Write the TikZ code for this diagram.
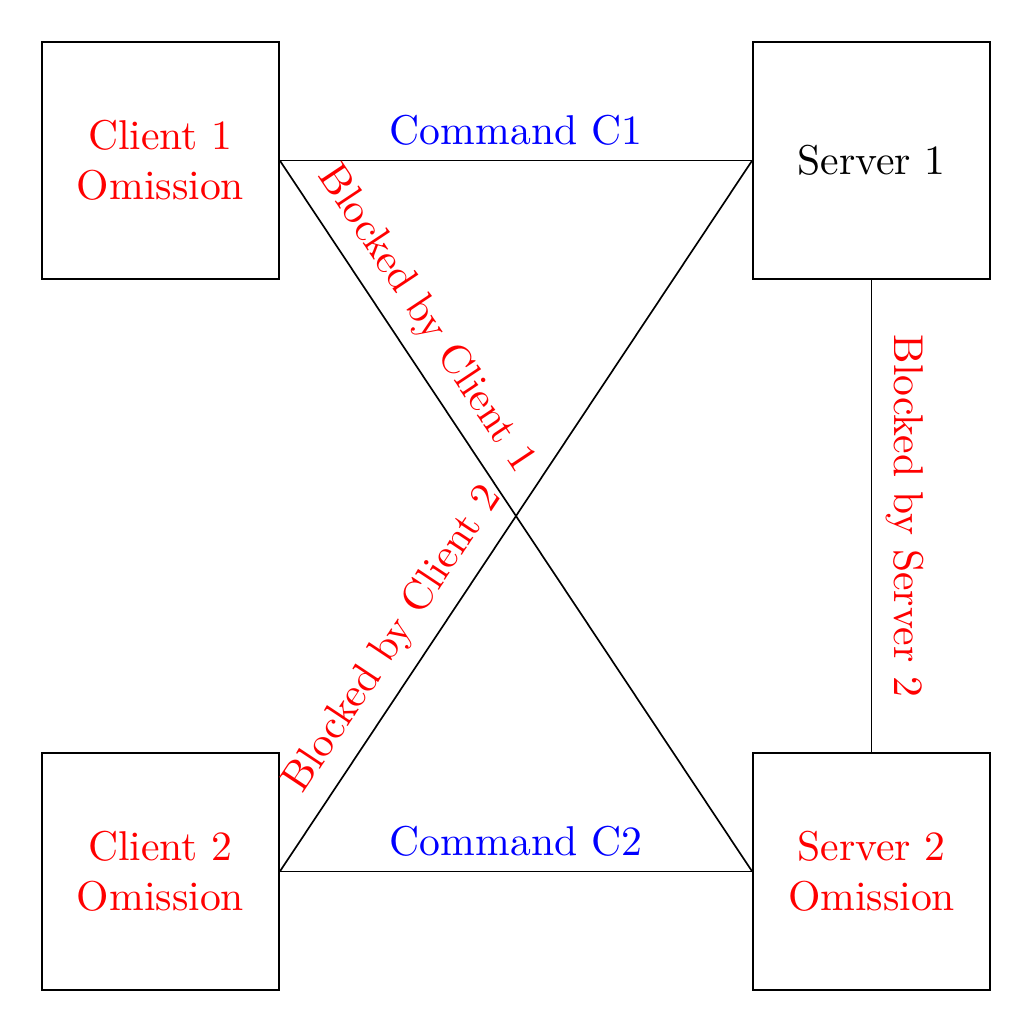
\documentclass[tikz,border=0pt]{standalone}
\begin{document}
\begin{tikzpicture}[
  box/.style={draw, minimum size=2cm, align=center, inner sep=0pt},
  lbl/.style={font=\normalsize}
]
\useasboundingbox (-1.354,1.354) rectangle (7.354,-7.354);
\node[box, text=red] (c1) at (0,0) {Client 1\\Omission};
\node[box] (s1) at (6,0) {Server 1};
\node[box, text=red] (c2) at (0,-6) {Client 2\\Omission};
\node[box, text=red] (s2) at (6,-6) {Server 2\\Omission};
\draw (c1.east) -- node[above, text=blue] {Command C1} (s1.west);
\draw (c2.east) -- node[above, text=blue] {Command C2} (s2.west);
\draw (c1.east) -- node[pos=0.25, above, sloped, text=red] {Blocked by Client 1} (s2.west);
\draw (c2.east) -- node[pos=0.30, above, sloped, text=red] {Blocked by Client 2} (s1.west);
\draw (s1.south) -- node[midway, above, sloped, text=red] {Blocked by Server 2} (s2.north);
\end{tikzpicture}
\end{document}
